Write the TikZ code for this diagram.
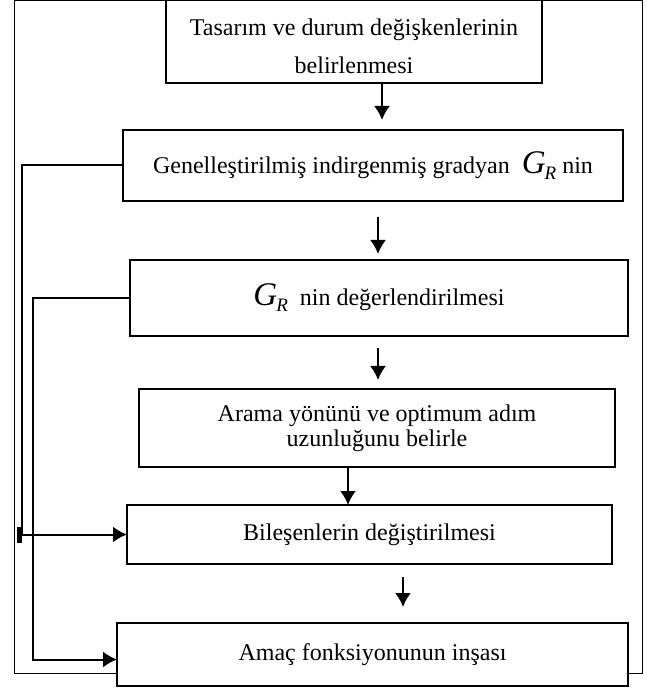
\documentclass[tikz,border=0pt]{standalone}
\usepackage{fontspec}
\setmainfont{Liberation Serif}
\usetikzlibrary{arrows.meta}

\newcommand{\gradGR}{{\fontsize{16.5}{16.5}\selectfont\itshape G}\kern-0.5pt\raisebox{-3pt}{\fontsize{9.5}{9.5}\selectfont\itshape R}}

\begin{document}
\begin{tikzpicture}[x=0.5pt, y=-0.5pt, >={Latex[length=7pt,width=8pt]},
    kutu/.style={draw, line width=1pt, fill=white, align=center, inner sep=0pt,
        outer sep=0pt, font=\fontsize{12}{19}\selectfont},
    akis/.style={->, line width=1pt}]

    \useasboundingbox (0,0) rectangle (646,688);

    % 1. Dış çerçeve
    \draw[line width=0.5pt] (14,1) rectangle (642,673);

    % 2. Kutular
    \node[kutu, minimum width=188pt, minimum height=41.5pt] (b1) at (354,41.5)
        {\rule{0pt}{13.5pt}Tasarım ve durum değişkenlerinin\\belirlenmesi};
    \node[kutu, minimum width=250pt, minimum height=35.5pt] (b2) at (373,165.5)
        {Genelleştirilmiş indirgenmiş gradyan \ \gradGR\ nin};
    \node[kutu, minimum width=249pt, minimum height=38pt] (b3) at (379,298)
        {\gradGR\ \ nin değerlendirilmesi};
    \node[kutu, minimum width=238pt, minimum height=39pt, font=\fontsize{12}{12.5}\selectfont] (b4) at (377,428)
        {Arama yönünü ve optimum adım\\uzunluğunu belirle};
    \node[kutu, minimum width=242.5pt, minimum height=29.5pt] (b5) at (369.5,534.5)
        {Bileşenlerin değiştirilmesi};
    \node[kutu, minimum width=255.5pt, minimum height=31.5pt] (b6) at (372.5,654.5)
        {Amaç fonksiyonunun inşası};

    % 3. Akış okları
    \draw[akis] ([xshift=14pt]b1.south) -- ([xshift=4.5pt,yshift=5pt]b2.north);
    \draw[akis] ([xshift=2.5pt,yshift=-8pt]b2.south) -- ([xshift=-0.5pt,yshift=3pt]b3.north);
    \draw[akis] ([xshift=-0.5pt,yshift=-6pt]b3.south) -- ([xshift=0.5pt,yshift=4.5pt]b4.north);
    \draw[akis] ([xshift=-14.5pt]b4.south) -- ([xshift=-10.75pt]b5.north);
    \draw[akis] ([xshift=16.75pt,yshift=-6.5pt]b5.south) -- ([xshift=15.25pt,yshift=8pt]b6.north);

    % 4. Geri dönüş bağlantıları
    \draw[akis] (b2.west) -- ++(-101,0) |- (b5.west);
    \draw[line width=2.5pt] (19.5,527) -- (19.5,543);
    \draw[akis] (b3.west) -- ++(-97,0) |- ([yshift=-2.5pt]b6.west);

\end{tikzpicture}
\end{document}
